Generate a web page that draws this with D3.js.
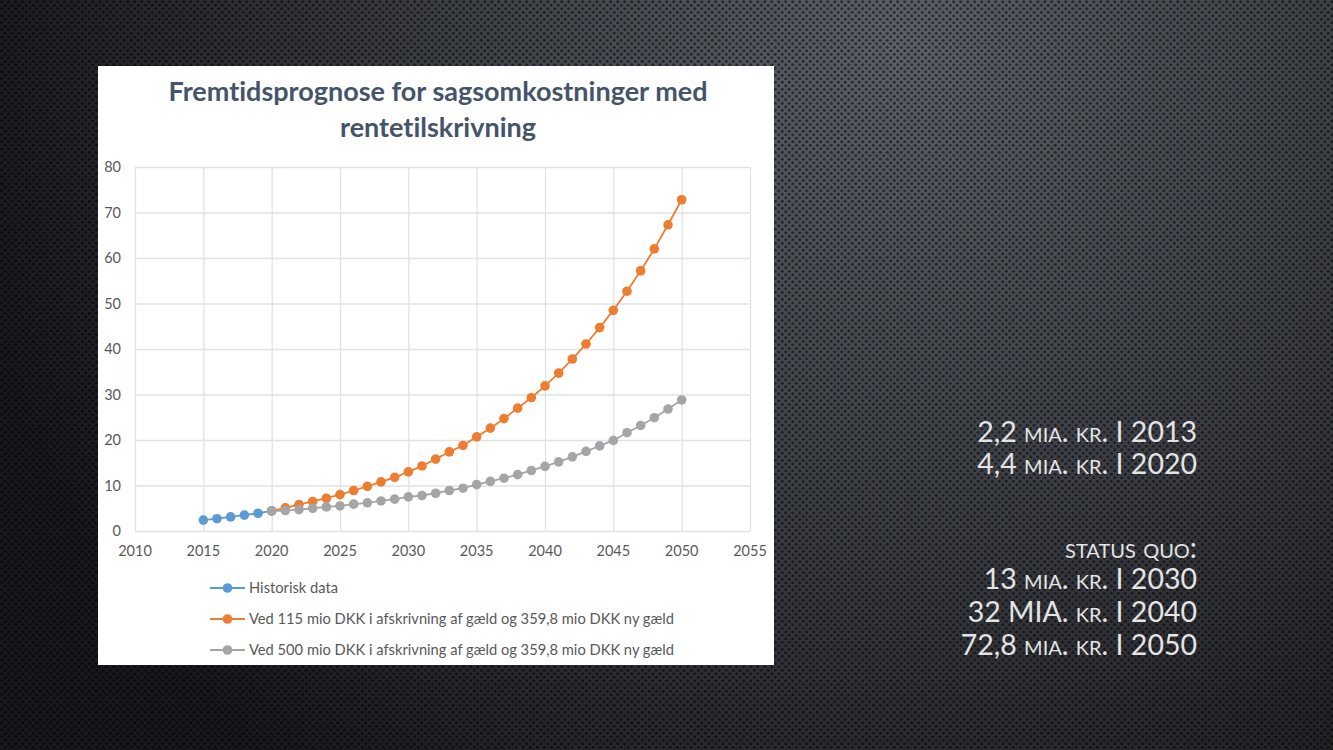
<!DOCTYPE html>
<html>
<head>
<meta charset="utf-8">
<script src="https://cdn.jsdelivr.net/npm/d3@7"></script>
<style>
  html, body { margin: 0; padding: 0; background: #2b2d31; }
  svg { display: block; }
  text { font-variant-ligatures: none; }
</style>
</head>
<body>
<svg id="slide" width="1333" height="750"></svg>
<script>
// chart data
const histYears = [2015, 2016, 2017, 2018, 2019, 2020];
const histValues = [2.4, 2.7, 3.1, 3.5, 3.9, 4.4];

const progYears = d3.range(2020, 2051);
const prog115 = [4.4, 5.1, 5.8, 6.5, 7.2, 8.0, 8.9, 9.8, 10.8, 11.8, 13.0,
  14.3, 15.8, 17.4, 18.8, 20.7, 22.6, 24.7, 27.0, 29.3, 31.9,
  34.7, 37.8, 41.1, 44.7, 48.5, 52.7, 57.2, 62.0, 67.3, 72.8];
const prog500 = [4.4, 4.5, 4.7, 5.0, 5.3, 5.5, 5.9, 6.2, 6.6, 7.0, 7.5,
  7.8, 8.3, 8.9, 9.4, 10.2, 10.9, 11.6, 12.4, 13.3, 14.2,
  15.2, 16.3, 17.5, 18.7, 19.9, 21.6, 23.2, 24.9, 26.8, 28.8];

const xTicks = d3.range(2010, 2056, 5);
const yTicks = d3.range(0, 81, 10);

const seriesNames = [
  'Historisk data',
  'Ved 115 mio DKK i afskrivning af gæld og 359,8 mio DKK ny gæld',
  'Ved 500 mio DKK i afskrivning af gæld og 359,8 mio DKK ny gæld'
];
const seriesColors = ['#5b9bd5', '#ed7d31', '#a5a5a5'];

const titleLines = ['Fremtidsprognose for sagsomkostninger med', 'rentetilskrivning'];

const sideLines = [
  '2,2 mia. kr. I 2013',
  '4,4 mia. kr. I 2020',
  '',
  'status quo:',
  '13 mia. kr. I 2030',
  '32 MIA. kr. I 2040',
  '72,8 mia. kr. I 2050'
];

const series = [
  { name: seriesNames[0], color: seriesColors[0], pts: histYears.map((y, i) => ({ x: y, v: histValues[i] })) },
  { name: seriesNames[1], color: seriesColors[1], pts: progYears.map((y, i) => ({ x: y, v: prog115[i] })) },
  { name: seriesNames[2], color: seriesColors[2], pts: progYears.map((y, i) => ({ x: y, v: prog500[i] })) }
];

const svg = d3.select('#slide');
const W = 1333, H = 750;

// ---- background: dark perforated texture with soft light spot
const defs = svg.append('defs');
const glow = defs.append('radialGradient')
  .attr('id', 'glow')
  .attr('gradientUnits', 'userSpaceOnUse')
  .attr('cx', 900).attr('cy', 40).attr('r', 950);
glow.append('stop').attr('offset', '0%').attr('stop-color', '#5c6068');
glow.append('stop').attr('offset', '45%').attr('stop-color', '#3e4147');
glow.append('stop').attr('offset', '100%').attr('stop-color', '#17181b');

const dots = defs.append('pattern')
  .attr('id', 'dots')
  .attr('patternUnits', 'userSpaceOnUse')
  .attr('width', 7).attr('height', 7);
dots.append('circle').attr('cx', 1.75).attr('cy', 1.75).attr('r', 1.6).attr('fill', '#000').attr('fill-opacity', 0.5);
dots.append('circle').attr('cx', 5.25).attr('cy', 5.25).attr('r', 1.6).attr('fill', '#000').attr('fill-opacity', 0.5);

svg.append('rect').attr('width', W).attr('height', H).attr('fill', 'url(#glow)');
svg.append('rect').attr('width', W).attr('height', H).attr('fill', 'url(#dots)');

// ---- white chart panel
const panel = { x: 98, y: 66, w: 676, h: 599 };
svg.append('rect')
  .attr('x', panel.x).attr('y', panel.y)
  .attr('width', panel.w).attr('height', panel.h)
  .attr('fill', '#fff');

const font = 'Lato, "Open Sans", sans-serif';

svg.append('g').selectAll('text')
  .data(titleLines)
  .join('text')
  .attr('x', 438)
  .attr('y', (d, i) => 101 + i * 36)
  .attr('text-anchor', 'middle')
  .attr('font-family', font)
  .attr('font-weight', 700)
  .attr('font-size', 27)
  .attr('fill', '#44546a')
  .text(d => d);

// plot area
const plot = { left: 135, right: 750, top: 167, bottom: 531 };

const x = d3.scaleLinear().domain([2010, 2055]).range([plot.left, plot.right]);
const y = d3.scaleLinear().domain([0, 80]).range([plot.bottom, plot.top]);

const grid = svg.append('g');
grid.append('g')
  .attr('transform', `translate(0,${plot.bottom})`)
  .call(d3.axisBottom(x).tickValues(xTicks).tickSize(-(plot.bottom - plot.top)).tickFormat(''))
  .call(g => g.select('.domain').remove());
grid.append('g')
  .attr('transform', `translate(${plot.left},0)`)
  .call(d3.axisLeft(y).tickValues(yTicks).tickSize(-(plot.right - plot.left)).tickFormat(''))
  .call(g => g.select('.domain').remove());
grid.selectAll('line').attr('stroke', '#dfe2e8').attr('stroke-width', 1.3);

// tick labels
svg.append('g').selectAll('text')
  .data(xTicks)
  .join('text')
  .attr('x', d => x(d))
  .attr('y', 556)
  .attr('text-anchor', 'middle')
  .attr('font-family', font)
  .attr('font-size', 14.5)
  .attr('fill', '#595959')
  .text(d => d);

svg.append('g').selectAll('text')
  .data(yTicks)
  .join('text')
  .attr('x', 121)
  .attr('y', d => y(d) + 5)
  .attr('text-anchor', 'end')
  .attr('font-family', font)
  .attr('font-size', 14.5)
  .attr('fill', '#595959')
  .text(d => d);

// series
const line = d3.line().x(d => x(d.x)).y(d => y(d.v));
const sg = svg.append('g').selectAll('g')
  .data(series)
  .join('g');
sg.append('path')
  .attr('d', d => line(d.pts))
  .attr('fill', 'none')
  .attr('stroke', d => d.color)
  .attr('stroke-width', 1.8);
sg.selectAll('circle')
  .data(d => d.pts.map(p => ({ ...p, color: d.color })))
  .join('circle')
  .attr('cx', d => x(d.x))
  .attr('cy', d => y(d.v))
  .attr('r', 4.8)
  .attr('fill', d => d.color);

// legend
const legend = svg.append('g').selectAll('g')
  .data(series)
  .join('g')
  .attr('transform', (d, i) => `translate(210,${588 + i * 31})`);
legend.append('line')
  .attr('x1', 0).attr('x2', 35)
  .attr('stroke', d => d.color).attr('stroke-width', 1.8);
legend.append('circle')
  .attr('cx', 17.5).attr('r', 4.8).attr('fill', d => d.color);
legend.append('text')
  .attr('x', 39).attr('y', 5)
  .attr('font-family', font)
  .attr('font-size', 14.7)
  .attr('fill', '#595959')
  .text(d => d.name);

// ---- side notes
svg.append('g').selectAll('text')
  .data(sideLines)
  .join('text')
  .attr('x', 1197)
  .attr('y', (d, i) => [442, 474, 0, 558, 589, 622, 655][i])
  .attr('text-anchor', 'end')
  .attr('font-family', font)
  .attr('font-weight', 400)
  .attr('font-size', 28.5)
  .style('font-variant', 'small-caps')
  .attr('fill', '#e4e4e4')
  .text(d => d);
</script>
</body>
</html>
